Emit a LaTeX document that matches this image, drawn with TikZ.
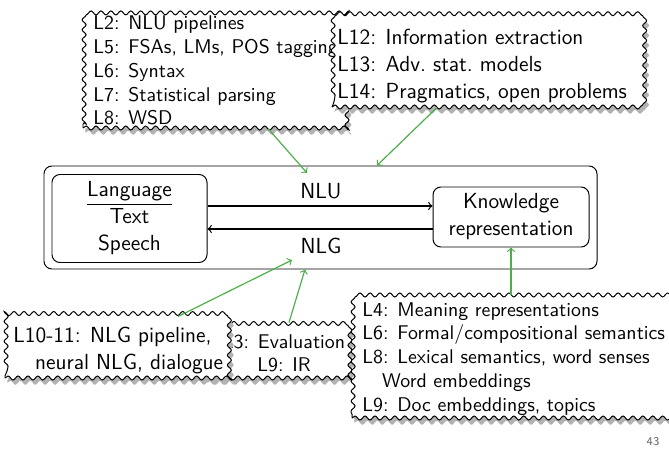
\documentclass[tikz,border=0pt]{standalone}
\usetikzlibrary{decorations.pathmorphing,shadows}
\definecolor{conngreen}{RGB}{77,175,74}
\begin{document}
\begin{tikzpicture}[x=0.504pt,y=-0.504pt,
  wavy/.style={draw=black, fill=white, line width=0.5pt, decorate,
    decoration={snake, segment length=5pt, amplitude=1pt},
    drop shadow={shadow xshift=1.2pt, shadow yshift=-2.4pt, fill=black!30, opacity=1}},
  sz/.style 2 args={minimum width=#1*0.504pt, minimum height=#2*0.504pt, inner sep=0pt},
  norm/.style={font=\sffamily\fontsize{11}{13.6}\selectfont, align=left, inner sep=0pt},
  smalltxt/.style={font=\sffamily\fontsize{10}{12}\selectfont, align=left, inner sep=0pt},
  conn/.style={draw=conngreen, line width=0.6pt, ->},
  plainbox/.style={draw=black, rounded corners=4pt, line width=0.5pt}]
\useasboundingbox (0,0) rectangle (669,450);

% main diagram
\node[plainbox, sz={553}{103}] (sys) at (320.5,217.5) {};
\node[plainbox, sz={155}{88}, norm, align=center] (lang) at (129.5,218.5) {\underline{Language}\\Text\\Speech};
\node[plainbox, sz={156}{60}, norm, align=center] (know) at (511,217) {Knowledge\\representation};
\node[norm] (nlu) at (321,191) {NLU};
\node[norm] (nlg) at (321,246) {NLG};
\draw[->, line width=0.6pt] (lang.east |- 0,206) -- (know.west |- 0,206);
\draw[->, line width=0.6pt] (know.west |- 0,229) -- (lang.east |- 0,229);

% top-left box
\node[wavy, sz={262}{120}] (b1) at (214,68) {};
\node[smalltxt, anchor=north west] (t1) at (93,15.5) {L2: NLU pipelines\\L5: FSAs, LMs, POS tagging\\L6: Syntax\\L7: Statistical parsing\\L8: WSD};

% top-right box
\node[wavy, sz={310}{85}] (b2) at (487,64.5) {};
\node[norm, anchor=north west] (t2) at (337,29) {L12: Information extraction\\L13: Adv.\ stat.\ models\\L14: Pragmatics, open problems};

% bottom-middle box
\node[wavy, sz={145}{55}] (b3) at (277.5,350.5) {};
\node[smalltxt, align=center, anchor=north] (t3) at (284,334) {L3: Evaluation\\L9: IR};

% bottom-left box
\node[wavy, sz={226}{61}] (b4) at (118,347.5) {};
\node[norm, anchor=north west] (t4) at (13,326.5) {L10-11: NLG pipeline,\\\hspace*{1em}neural NLG, dialogue};

% bottom-right box
\node[wavy, sz={316}{123}] (b5) at (510,356.5) {};
\node[smalltxt, anchor=north west] (t5) at (362,302) {L4: Meaning representations\\L6: Formal/compositional semantics\\L8: Lexical semantics, word senses\\\hspace*{1em}Word embeddings\\L9: Doc embeddings, topics};

% page number
\node[font=\sffamily\fontsize{6}{7}\selectfont, text=black!60] (pg) at (653,442) {43};

% connectors
\coordinate (e1) at (307,173);
\coordinate (e3) at (292,260);
\draw[conn] (b1.south -| 268,0) -- (e1);
\draw[conn] (b2.south -| 437,0) -- (sys.north -| 377,0);
\draw[conn] (b4.north -| 178,0) -- (e3);
\draw[conn] (b3.north -| 289,0) -- (sys.south -| 305,0);
\draw[conn] (b5.north -| know.south) -- (know.south);
\end{tikzpicture}
\end{document}
